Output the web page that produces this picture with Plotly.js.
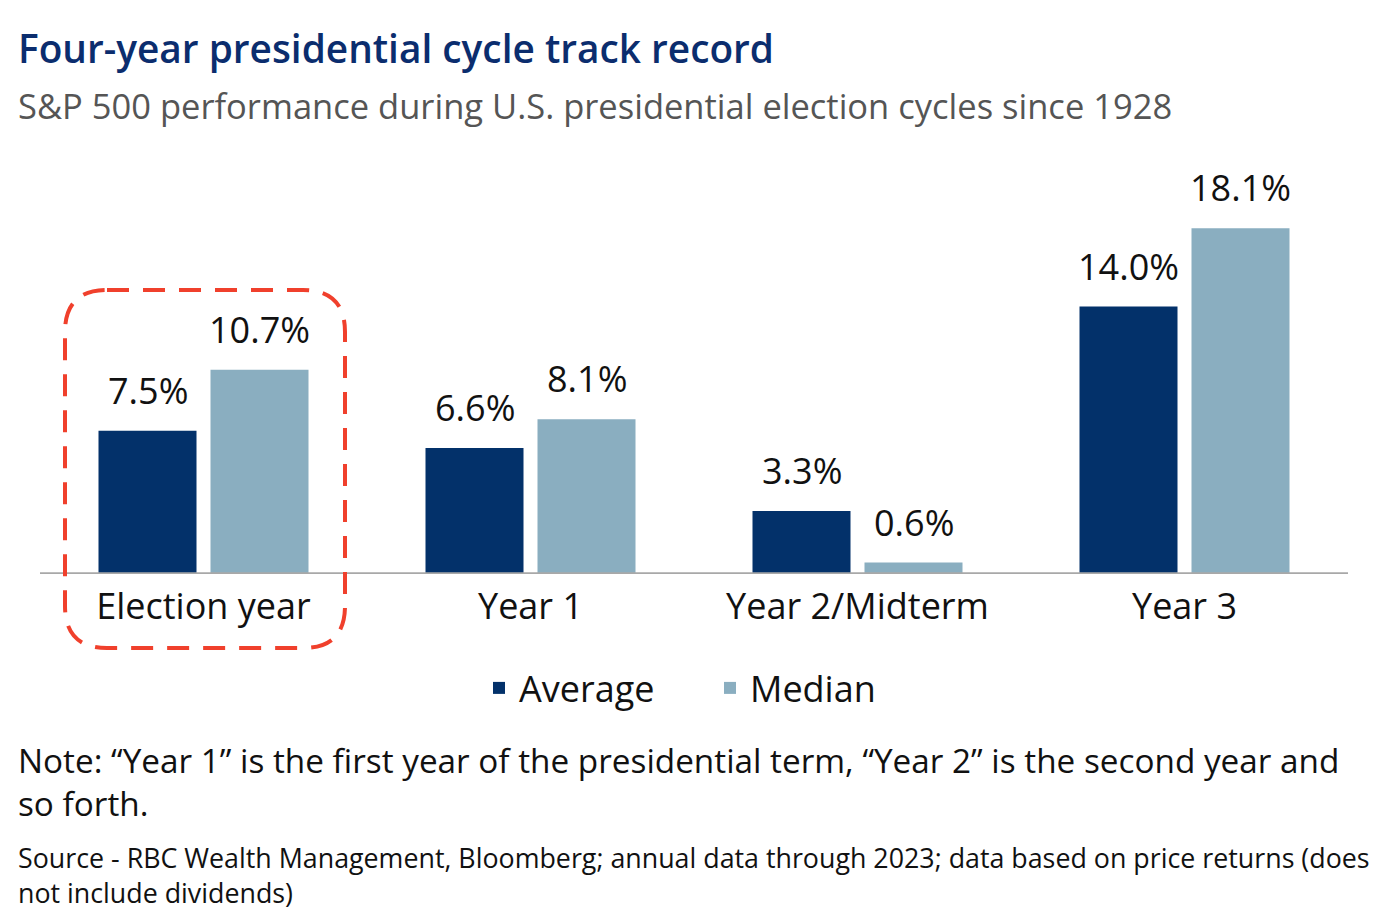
<!DOCTYPE html>
<html>
<head>
<meta charset="utf-8">
<script src="https://cdn.plot.ly/plotly-3.0.1.min.js"></script>
<style>html,body{margin:0;padding:0;background:#fff;}#chart{width:1389px;height:919px;}</style>
</head>
<body>
<div id="chart"></div>
<script>
const categories = ["Election year", "Year 1", "Year 2/Midterm", "Year 3"];
const averageValues = [7.5, 6.6, 3.3, 14.0];
const medianValues = [10.7, 8.1, 0.6, 18.1];
const seriesNames = ["Average", "Median"];
const titleText = "Four-year presidential cycle track record";
const subtitleText = "S&P 500 performance during U.S. presidential election cycles since 1928";
const noteText = "Note: \u201cYear 1\u201d is the first year of the presidential term, \u201cYear 2\u201d is the second year and<br>so forth.";
const sourceText = "Source - RBC Wealth Management, Bloomberg; annual data through 2023; data based on price returns (does<br>not include dividends)";

const W = 1389, H = 919;
const L = 40, R = 1348, T = 192, B = 574;
const pw = R - L, ph = B - T;
const px = x => (x - L) / pw;
const py = y => (B - y) / ph;
const FONT = "'Open Sans', 'Noto Sans', sans-serif";

const traces = [
  {type: "bar", name: seriesNames[0], x: categories, y: averageValues,
   marker: {color: "#03316a"}, cliponaxis: false, hoverinfo: "skip"},
  {type: "bar", name: seriesNames[1], x: categories, y: medianValues,
   marker: {color: "#8aaec0"}, cliponaxis: false, hoverinfo: "skip"}
];

// value labels above bars (data coords, shifted to each bar of the group)
const labelAnn = [];
[averageValues, medianValues].forEach((vals, si) => {
  vals.forEach((v, i) => {
    labelAnn.push({xref: "x", yref: "y", x: categories[i], y: v, xshift: si === 0 ? -56 : 56,
      yshift: 14, yanchor: "bottom", xanchor: "center", showarrow: false,
      text: v.toFixed(1) + "%", font: {size: 36, color: "#111", family: FONT}});
  });
});

// rounded dashed box around Election year (paper coords)
const x0 = px(65), x1 = px(345), y1 = py(290), y0 = py(648);
const rx = 42 / pw, ry = 42 / ph;
const boxPath = `M ${x0+rx},${y1} L ${x1-rx},${y1} Q ${x1},${y1} ${x1},${y1-ry} L ${x1},${y0+ry} Q ${x1},${y0} ${x1-rx},${y0} L ${x0+rx},${y0} Q ${x0},${y0} ${x0},${y0+ry} L ${x0},${y1-ry} Q ${x0},${y1} ${x0+rx},${y1} Z`;

const layout = {
  width: W, height: H,
  margin: {l: L, r: W - R, t: T, b: H - B, pad: 0},
  paper_bgcolor: "#fff", plot_bgcolor: "#fff",
  font: {family: FONT, color: "#111"},
  barmode: "group", bargap: 0.315, bargroupgap: 0.125,
  showlegend: true,
  legend: {orientation: "h", x: px(479), xanchor: "left", y: py(688), yanchor: "middle",
           entrywidth: 186, entrywidthmode: "pixels",
           font: {size: 36, color: "#111", family: FONT}, itemclick: false, traceorder: "normal"},
  xaxis: {type: "category", showgrid: false, zeroline: false, showline: false,
          ticks: "", tickfont: {size: 36, color: "#111", family: FONT}, ticklabelstandoff: 8, fixedrange: true},
  yaxis: {range: [0, 20], visible: false, showgrid: false, zeroline: false, fixedrange: true},
  shapes: [
    {type: "line", xref: "paper", yref: "y", x0: 0, x1: 1, y0: 0, y1: 0, layer: "above", line: {color: "#a8a8a8", width: 3.5}},
    {type: "path", xref: "paper", yref: "paper", path: boxPath, line: {color: "#f0402c", width: 4, dash: "22px,14px"}}
  ],
  annotations: labelAnn.concat([
    {xref: "paper", yref: "paper", x: px(16), y: py(48), xanchor: "left", yanchor: "middle", showarrow: false,
     text: titleText, font: {size: 38.8, color: "#0b2d6e", family: FONT, weight: 600}},
    {xref: "paper", yref: "paper", x: px(16), y: py(105), xanchor: "left", yanchor: "middle", showarrow: false,
     text: subtitleText, font: {size: 34.5, color: "#555", family: FONT}},
    {xref: "paper", yref: "paper", x: px(16), y: py(735), xanchor: "left", yanchor: "top", showarrow: false, align: "left",
     text: noteText, font: {size: 33.3, color: "#111", family: FONT}},
    {xref: "paper", yref: "paper", x: px(16), y: py(837), xanchor: "left", yanchor: "top", showarrow: false, align: "left",
     text: sourceText, font: {size: 26.8, color: "#111", family: FONT}}
  ])
};

Plotly.newPlot("chart", traces, layout, {displayModeBar: false, staticPlot: true});
</script>
</body>
</html>
